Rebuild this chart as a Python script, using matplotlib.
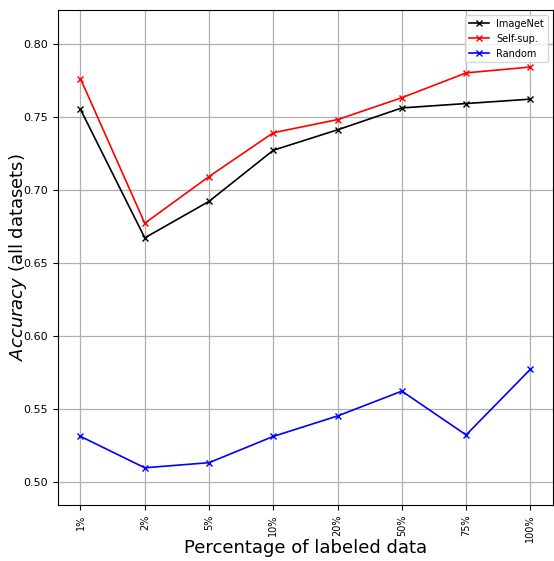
import matplotlib
matplotlib.use("Agg")
import matplotlib.pyplot as plt

labels = ["1%", "2%", "5%", "10%", "20%", "50%", "75%", "100%"]
imagenet = [0.755, 0.667, 0.692, 0.727, 0.741, 0.756, 0.759, 0.762]
selfsup = [0.776, 0.677, 0.709, 0.739, 0.748, 0.763, 0.780, 0.784]
random_init = [0.531, 0.5095, 0.513, 0.531, 0.545, 0.562, 0.532, 0.577]

fig = plt.figure(figsize=(5.54, 5.61), dpi=100)
ax = fig.add_axes([0.1047, 0.0998, 0.8933, 0.8822])
x = list(range(len(labels)))
ax.plot(x, imagenet, color="black", marker="x", markersize=5, linewidth=1.2, label="ImageNet")
ax.plot(x, selfsup, color="red", marker="x", markersize=5, linewidth=1.2, label="Self-sup.")
ax.plot(x, random_init, color="blue", marker="x", markersize=5, linewidth=1.2, label="Random")
ax.set_xticks(x)
ax.set_xticklabels(labels, rotation=90, fontsize=7)
ax.set_yticks([0.50, 0.55, 0.60, 0.65, 0.70, 0.75, 0.80])
ax.set_yticklabels(["0.50", "0.55", "0.60", "0.65", "0.70", "0.75", "0.80"], fontsize=8)
ax.set_ylim(0.484, 0.823)
ax.grid(True, color="#b0b0b0", linewidth=0.9)
ax.set_axisbelow(True)
ax.set_xlabel("Percentage of labeled data", fontsize=13)
ax.set_ylabel(r"$\mathit{Accuracy}$ (all datasets)", fontsize=13)
ax.xaxis.set_label_coords(0.5, -0.068)
ax.yaxis.set_label_coords(-0.058, 0.5)
ax.legend(loc="upper right", fontsize=7, framealpha=0.8)
fig.savefig("out.png", dpi=100)
